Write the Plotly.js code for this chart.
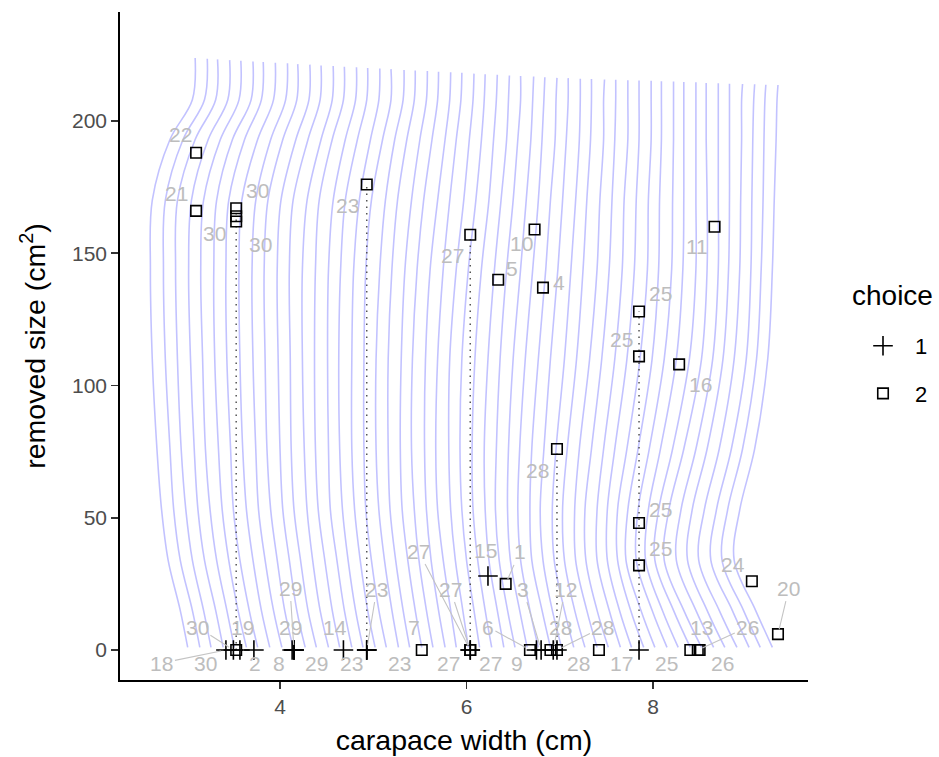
<!DOCTYPE html>
<html><head><meta charset="utf-8">
<script src="https://cdn.plot.ly/plotly-3.0.1.min.js"></script>
<style>body{margin:0;background:#fff}#chart{width:939px;height:757px}</style>
</head><body><div id="chart"></div>
<script>
// ---- observations: choice 2 (squares) ----
const sqX  = [3.10,3.10,3.53,3.53,3.53,4.93,6.04,6.73,6.34,6.82,8.66,7.85,7.85,8.28,6.97,7.85,7.85,6.42,9.06,9.34,3.53,5.52,6.04,6.04,6.68,6.90,6.97,7.42,8.40,8.48,8.50];
const sqY  = [188,166,167,164,162,176,157,159,140,137,160,128,111,108,76,48,32,25,26,6,0,0,0,0,0,0,0,0,0,0,0];
const sqID = ['22','21','30','30','30','23','27','10','5','4','11','25','25','16','28','25','25','1','24','20','30','7','27','27','6','28','28','17','13','26','26'];
// ---- observations: choice 1 (plus) ----
const plX  = [6.23,3.42,3.50,3.57,3.72,4.13,4.15,4.15,4.15,4.68,4.93,4.93,4.93,6.04,6.04,6.75,6.80,6.93,6.97,7.85];
const plY  = [28,0,0,0,0,0,0,0,0,0,0,0,0,0,0,0,0,0,0,0];
const plID = ['15','18','30','19','2','8','29','29','29','14','23','23','23','27','27','9','3','12','28','25'];
// ---- repeated individuals joined by dotted lines ----
const pathID = ['30','23','27','28','25'];
const pathX  = [3.53,4.93,6.04,6.97,7.85];
const pathTop= [167,176,157,76,128];
const pathBottom=[0,0,0,0,0];
const xTicks=[4,6,8];
const yTicks=[0,50,100,150,200];

// ---- background wavy lines ----
// x of each line at its lower end (y = 1)
const waveBottomX=[3.01,3.14,3.26,3.39,3.51,3.64,3.76,3.89,4.02,4.14,4.27,4.39,4.52,4.64,4.77,4.89,5.02,5.14,5.27,5.39,5.52,5.64,5.77,5.89,6.02,6.14,6.27,6.40,6.52,6.65,6.77,6.90,7.02,7.15,7.27,7.40,7.52,7.65,7.77,7.90,8.02,8.15,8.27,8.40,8.52,8.65,8.77,8.90,9.03,9.15,9.28];
// y of each line at its upper end
const waveTopY=[223.8,223.5,223.3,223.0,222.8,222.5,222.3,222.0,221.8,221.5,221.3,221.0,220.8,220.5,220.3,220.0,219.8,219.6,219.3,219.1,218.9,218.6,218.4,218.2,217.9,217.7,217.5,217.2,217.0,216.8,216.5,216.3,216.2,216.0,215.9,215.7,215.6,215.4,215.3,215.2,215.0,214.9,214.7,214.6,214.4,214.3,214.1,214.0,213.9,213.7,213.6];
// y levels at which the sideways shift is read (after the top end), and the lower end
const waveLevelY=[208,193,170,144,110,76,53,34,15];
const waveEndY=1;
// sideways shift of each line (hundredths of cm) at: top end, then each waveLevelY
const waveShift=[
[8,5,-19,-38,-40,-38,-33,-28,-21,-8],[8,5,-18,-37,-39,-37,-32,-28,-21,-8],[7,5,-17,-36,-38,-36,-32,-27,-20,-8],
[7,5,-16,-34,-37,-35,-31,-27,-20,-8],[7,5,-15,-33,-36,-34,-31,-26,-19,-8],[7,5,-15,-32,-35,-34,-30,-26,-19,-9],
[6,4,-14,-31,-34,-33,-29,-26,-19,-9],[6,4,-13,-30,-33,-32,-29,-25,-18,-9],[6,4,-12,-28,-32,-31,-28,-25,-18,-9],
[5,4,-11,-27,-31,-30,-28,-24,-17,-9],[5,4,-10,-26,-30,-29,-27,-24,-17,-9],[5,4,-9,-25,-29,-28,-27,-24,-17,-9],
[5,4,-8,-23,-28,-28,-26,-23,-17,-9],[5,4,-8,-22,-26,-27,-26,-23,-16,-8],[5,4,-7,-20,-25,-26,-25,-23,-16,-8],
[5,4,-6,-19,-24,-26,-25,-22,-16,-8],[5,4,-5,-17,-23,-25,-25,-22,-16,-8],[5,5,-4,-16,-22,-24,-24,-22,-16,-8],
[6,5,-4,-14,-20,-24,-24,-21,-15,-7],[6,5,-3,-13,-19,-23,-23,-21,-15,-7],[6,5,-2,-11,-18,-22,-23,-21,-15,-7],
[6,5,-1,-10,-17,-22,-23,-20,-15,-7],[6,5,0,-8,-16,-21,-22,-20,-15,-7],[6,5,0,-7,-14,-20,-22,-20,-14,-6],
[6,5,1,-5,-13,-20,-21,-19,-14,-6],[6,5,2,-4,-12,-19,-21,-19,-14,-6],[6,5,2,-3,-11,-18,-21,-20,-15,-7],
[6,5,3,-3,-10,-17,-21,-20,-16,-7],[6,6,3,-2,-9,-16,-20,-21,-17,-8],[7,6,4,-1,-7,-15,-20,-21,-18,-8],
[7,6,4,0,-6,-14,-20,-22,-19,-9],[7,6,5,0,-5,-13,-20,-22,-20,-9],[7,7,5,1,-4,-12,-19,-23,-20,-10],
[7,7,6,2,-3,-10,-19,-23,-21,-10],[7,7,6,2,-2,-9,-19,-24,-22,-11],[8,7,7,3,0,-8,-19,-24,-23,-11],
[8,8,7,4,1,-7,-18,-25,-24,-12],[8,8,8,4,2,-6,-18,-25,-25,-12],[8,8,8,5,3,-5,-18,-26,-26,-13],
[8,8,8,5,4,-4,-18,-28,-28,-14],[7,7,7,5,4,-3,-18,-29,-31,-15],[7,7,7,6,5,-3,-19,-31,-33,-16],
[6,6,6,6,5,-2,-19,-32,-35,-17],[6,6,6,6,6,-1,-19,-34,-38,-18],[5,5,5,6,6,0,-19,-35,-40,-19],
[5,5,5,5,5,-1,-19,-35,-40,-19],[5,5,5,5,4,-2,-19,-35,-40,-19],[6,5,5,4,3,-3,-19,-35,-41,-19],
[6,5,4,3,2,-3,-19,-35,-41,-18],[6,5,4,3,1,-4,-19,-35,-41,-18],[6,5,4,2,0,-5,-19,-35,-41,-18]];

// label offsets (pixels) for the repelled text labels: [dx, dy, segment]
const sqLab = [[-16,-18,0],[-20,-17,0],[21,-18,0],[-22,17,0],[24,23,0],[-19,21,0],[-18,21,0],[-13,14,0],[14,-11,0],[16,-5,0],[-18,20,0],[21,-18,0],[-18,-17,0],[21,20,0],[-19,22,0],[21,-14,0],[21,-17,0],[14,-32,1],[-19,-17,0],[11,-46,1],[-31,13,0],[-8,-23,0],[-52,-99,1],[20,13,0],[-42,-23,1],[10,-23,0],[22,13,0],[23,13,0],[11,-23,0],[50,-23,1],[23,13,0]];
const plLab = [[-2,-25,0],[-64,13,1],[-36,-23,1],[3,-23,0],[1,13,0],[-13,13,0],[-4,-23,0],[-4,-62,1],[22,13,0],[-8,-23,0],[-15,13,0],[10,-61,1],[33,13,0],[-20,-61,1],[-22,13,0],[-19,13,0],[-18,-61,1],[12,-61,1],[46,-23,1],[27,13,0]];

const traces=[];
waveBottomX.forEach((xb,i)=>{
  const xs=[],ys=[];
  xs.push(xb+waveShift[i][0]/100); ys.push(waveTopY[i]);
  waveLevelY.forEach((ly,k)=>{xs.push(xb+waveShift[i][k+1]/100); ys.push(ly);});
  xs.push(xb); ys.push(waveEndY);
  traces.push({x:xs,y:ys,mode:'lines',line:{color:'rgba(0,0,255,0.24)',width:1.6,shape:'spline',smoothing:1},hoverinfo:'skip',showlegend:false});
});
pathID.forEach((id,i)=>traces.push({x:[pathX[i],pathX[i]],y:[pathBottom[i],pathTop[i]],mode:'lines',line:{color:'#555',width:1.5,dash:'1.5px,5px'},showlegend:false,hoverinfo:'skip'}));
traces.push({x:plX,y:plY,text:plID,mode:'markers',name:'1',legendgroup:'a',marker:{symbol:'cross-thin-open',size:14,color:'#000',line:{width:1.6,color:'#000'}}});
traces.push({x:sqX,y:sqY,text:sqID,mode:'markers',name:'2',legendgroup:'b',marker:{symbol:'square-open',size:10.5,color:'#000',line:{width:1.6,color:'#000'}}});

const ann=[];
const labFont={size:21,color:'#bdbdbd'};
function addLab(xs,ys,ids,lab){
  xs.forEach((x,i)=>{
    const [dx,dy,seg]=lab[i];
    if(seg) ann.push({x:x,y:ys[i],text:ids[i],showarrow:true,ax:dx,ay:dy,arrowhead:0,arrowwidth:1.1,arrowcolor:'#c4c4c4',standoff:5,font:labFont});
    else ann.push({x:x,y:ys[i],text:ids[i],showarrow:false,xshift:dx,yshift:-dy,font:labFont});
  });
}
addLab(sqX,sqY,sqID,sqLab);addLab(plX,plY,plID,plLab);
// legend title
ann.push({xref:'paper',yref:'paper',x:1.1235,y:0.5763,xanchor:'center',yanchor:'middle',text:'choice',showarrow:false,font:{size:28,color:'#000'}});

const axisCommon={ticks:'outside',ticklen:7,tickwidth:1.5,tickcolor:'#333',showline:true,linecolor:'#000',linewidth:1.8,showgrid:false,zeroline:false,tickfont:{size:21,color:'#4d4d4d'}};
const layout={width:939,height:757,margin:{l:120,r:131,t:12,b:77,autoexpand:false},paper_bgcolor:'#fff',plot_bgcolor:'#fff',
font:{family:'Liberation Sans, Arial, sans-serif'},
xaxis:Object.assign({range:[2.284,9.662],tickvals:xTicks,title:{text:'carapace width (cm)',font:{size:28.5,color:'#000'},standoff:13}},axisCommon),
yaxis:Object.assign({range:[-11.34,241.2],tickvals:yTicks,title:{text:'removed size (cm<sup>2</sup>)',font:{size:28.5,color:'#000'},standoff:18}},axisCommon),
legend:{x:1.0625,xanchor:'left',y:0.5314,yanchor:'top',font:{size:22,color:'#000'},tracegroupgap:16,itemwidth:54},
annotations:ann,showlegend:true};
Plotly.newPlot('chart',traces,layout,{displayModeBar:false,staticPlot:true});
</script></body></html>
